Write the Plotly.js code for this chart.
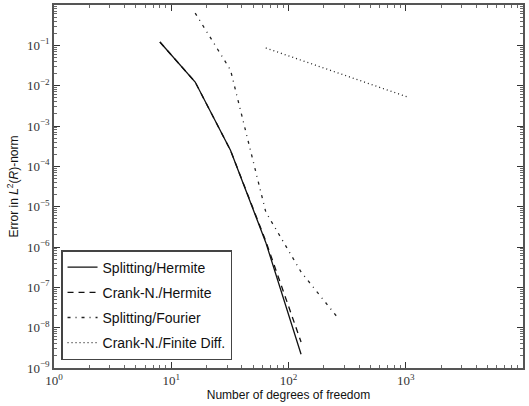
<!DOCTYPE html>
<html>
<head>
<meta charset="utf-8">
<script src="https://cdn.plot.ly/plotly-3.0.1.min.js"></script>
<style>html,body{margin:0;padding:0;background:#fff;}</style>
</head>
<body>
<div id="chart" style="width:529px;height:406px;"></div>
<script>
// Data
const splitHermiteN = [8, 16, 32, 64, 128];
const splitHermiteErr = [0.121, 0.0123, 2.5e-4, 1.3e-6, 2.2e-9];

const crankHermiteN = [8, 16, 32, 64, 128];
const crankHermiteErr = [0.121, 0.0123, 2.5e-4, 1.4e-6, 4.4e-9];

const splitFourierN = [16, 32, 64, 128, 256];
const splitFourierErr = [0.63, 0.0245, 7.4e-6, 2.4e-7, 1.95e-8];

const crankFDN = [64, 128, 256, 512, 1024];
const crankFDErr = [0.086, 0.0424, 0.0212, 0.0106, 0.0053];

const xTickVals = [1, 10, 100, 1000, 10000];
const xTickText = ['10<sup>0</sup>', '10<sup>1</sup>', '10<sup>2</sup>', '10<sup>3</sup>', '10<sup>4</sup>'];
const yTickVals = [1e-9, 1e-8, 1e-7, 1e-6, 1e-5, 1e-4, 1e-3, 1e-2, 1e-1, 1];
const yTickText = ['10<sup>−9</sup>', '10<sup>−8</sup>', '10<sup>−7</sup>', '10<sup>−6</sup>', '10<sup>−5</sup>',
                   '10<sup>−4</sup>', '10<sup>−3</sup>', '10<sup>−2</sup>', '10<sup>−1</sup>', '10<sup>0</sup>'];

const traces = [
  {x: splitHermiteN, y: splitHermiteErr, name: 'Splitting/Hermite', mode: 'lines',
   line: {color: '#111', width: 1.3}, legendgroup: 'a'},
  {x: crankHermiteN, y: crankHermiteErr, name: 'Crank-N./Hermite', mode: 'lines',
   line: {color: '#111', width: 1.3, dash: '6px,5px'}, legendgroup: 'b'},
  {x: splitFourierN, y: splitFourierErr, name: 'Splitting/Fourier', mode: 'lines',
   line: {color: '#222', width: 1.3, dash: '3px,5px,1px,5px'}, legendgroup: 'c'},
  {x: crankFDN, y: crankFDErr, name: 'Crank-N./Finite Diff.', mode: 'lines',
   line: {color: '#222', width: 1.3, dash: '1px,3px'}, legendgroup: 'd'}
];

const axisCommon = {
  type: 'log',
  showgrid: false,
  zeroline: false,
  showline: true,
  linecolor: '#555',
  linewidth: 1.8,
  mirror: 'allticks',
  ticks: 'inside',
  ticklen: 6,
  tickwidth: 1,
  tickcolor: '#333',
  tickmode: 'array',
  tickfont: {family: 'Liberation Serif, serif', size: 13, color: '#333'},
  minor: {ticks: 'inside', ticklen: 3, tickwidth: 0.8, tickcolor: '#444', dtick: 'D1', showgrid: false}
};

const layout = {
  width: 529, height: 406,
  margin: {l: 54, r: 6, t: 5, b: 38},
  paper_bgcolor: '#fff', plot_bgcolor: '#fff',
  showlegend: true,
  xaxis: Object.assign({}, axisCommon, {
    range: [0, 4],
    tickvals: xTickVals, ticktext: xTickText,
    title: {text: 'Number of degrees of freedom', standoff: 1,
            font: {family: 'Liberation Sans, Arial, sans-serif', size: 12, color: '#111'}}
  }),
  yaxis: Object.assign({}, axisCommon, {
    range: [-9, 0],
    tickvals: yTickVals, ticktext: yTickText,
    title: {text: 'Error in <i>L</i><sup>2</sup>(<i>R</i>)-norm', standoff: 6,
            font: {family: 'Liberation Sans, Arial, sans-serif', size: 12, color: '#111'}}
  }),
  legend: {
    x: 0.015, y: 0.022, xanchor: 'left', yanchor: 'bottom',
    bgcolor: '#fff', bordercolor: '#444', borderwidth: 1.5,
    font: {family: 'Liberation Sans, Arial, sans-serif', size: 14, color: '#111'},
    traceorder: 'grouped', tracegroupgap: 4
  }
};

Plotly.newPlot('chart', traces, layout, {displayModeBar: false, staticPlot: true});
</script>
</body>
</html>
